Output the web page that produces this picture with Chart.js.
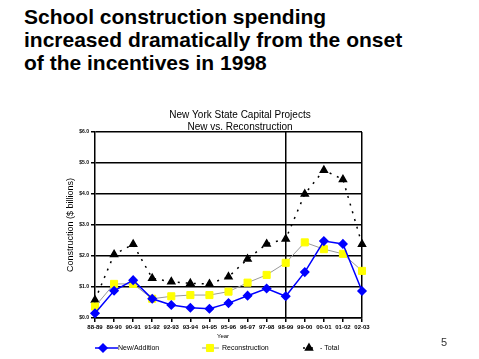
<!DOCTYPE html>
<html>
<head>
<meta charset="utf-8">
<script src="https://cdn.jsdelivr.net/npm/chart.js@4"></script>
<style>
  body { margin: 0; background: #fff; }
  #wrap { position: relative; width: 479px; height: 359px; overflow: hidden; }
  #slideTitle {
    position: absolute; left: 24px; top: 5px;
    font: bold 21px "Liberation Sans", Arial, sans-serif;
    line-height: 23px; color: #000; white-space: nowrap;
  }
  #pageNum {
    position: absolute; left: 441px; top: 336px;
    font: 11px "Liberation Sans", Arial, sans-serif; color: #333;
  }
  canvas { position: absolute; left: 0; top: 0; }
</style>
</head>
<body>
<div id="wrap">
  <div id="slideTitle">School construction spending<br>increased dramatically from the onset<br>of the incentives in 1998</div>
  <canvas id="projectsChart" width="479" height="359"></canvas>
  <div id="pageNum">5</div>
</div>
<script>
// Fiscal years on the x axis
const years = ['88-89', '89-90', '90-91', '91-92', '92-93', '93-94', '94-95', '95-96',
               '96-97', '97-98', '98-99', '99-00', '00-01', '01-02', '02-03'];

// Spending in $ billions
const newAddition    = [0.15, 0.88, 1.22, 0.62, 0.42, 0.33, 0.30, 0.48, 0.72, 0.95, 0.70, 1.48, 2.48, 2.39, 0.87];
const reconstruction = [0.37, 1.10, 1.10, 0.62, 0.70, 0.74, 0.74, 0.85, 1.14, 1.39, 1.78, 2.44, 2.22, 2.07, 1.52];
const total          = [0.58, 2.05, 2.38, 1.28, 1.17, 1.12, 1.10, 1.33, 1.90, 2.39, 2.55, 4.00, 4.77, 4.47, 2.38];

const yTicks = [0, 1, 2, 3, 4, 5, 6];
const startIndex = 10; // incentives begin in 98-99

const FONT = '"Liberation Sans", Arial, sans-serif';

// Titles, axis names and the legend row are drawn by hand to match the slide
const annotations = {
    id: 'annotations',
    afterDraw(chart) {
        const c = chart.ctx;
        const area = chart.chartArea;
        c.save();
        c.fillStyle = '#000';
        c.textAlign = 'center';
        c.textBaseline = 'middle';
        c.font = '10px ' + FONT;
        c.fillText('New York State Capital Projects', 240, 115);
        c.fillText('New vs. Reconstruction', 240, 127);

        c.font = '6px ' + FONT;
        c.fillText('Year', 223, 336);

        c.font = '9px ' + FONT;
        c.translate(71, (area.top + area.bottom) / 2);
        c.rotate(-Math.PI / 2);
        c.fillText('Construction ($ billions)', 0, 0);
        c.restore();

        // legend
        const ly = 348;
        const items = [
            { ds: 0, x1: 95, x2: 118, mx: 103, tx: 118, text: 'New/Addition', dash: [] },
            { ds: 1, x1: 202, x2: 219, mx: 210, tx: 222, text: 'Reconstruction', dash: [] },
            { ds: 2, x1: 303, x2: 318, mx: 309, tx: 320, text: '- Total', dash: [2, 6] }
        ];
        c.save();
        c.font = '7px ' + FONT;
        c.textBaseline = 'middle';
        c.textAlign = 'left';
        items.forEach(it => {
            const ds = chart.data.datasets[it.ds];
            c.strokeStyle = ds.borderColor;
            c.lineWidth = ds.borderWidth;
            c.setLineDash(it.dash);
            c.beginPath();
            c.moveTo(it.x1, ly);
            c.lineTo(it.x2, ly);
            c.stroke();
            c.setLineDash([]);
            c.fillStyle = ds.pointBackgroundColor;
            c.strokeStyle = ds.pointBorderColor;
            Chart.helpers.drawPoint(c, {
                pointStyle: ds.pointStyle,
                radius: ds.pointRadius,
                borderWidth: 1
            }, it.mx, ly);
            c.fillStyle = '#000';
            c.fillText(it.text, it.tx, ly);
        });
        c.restore();
    }
};

new Chart(document.getElementById('projectsChart'), {
    type: 'line',
    data: {
        labels: years,
        datasets: [{
            label: 'New/Addition',
            data: newAddition,
            borderColor: '#0000ff',
            borderWidth: 1.5,
            pointStyle: 'rectRot',
            pointRadius: 4,
            pointBackgroundColor: '#0000ff',
            pointBorderColor: '#0000ff',
            tension: 0
        }, {
            label: 'Reconstruction',
            data: reconstruction,
            borderColor: '#999999',
            borderWidth: 1,
            pointStyle: 'rect',
            pointRadius: 5,
            pointBackgroundColor: '#ffff00',
            pointBorderColor: '#ffff00',
            tension: 0
        }, {
            label: 'Total',
            data: total,
            borderColor: '#000000',
            borderWidth: 1.5,
            borderDash: [2, 6],
            pointStyle: 'triangle',
            pointRadius: 4,
            pointBackgroundColor: '#000000',
            pointBorderColor: '#000000',
            tension: 0
        }]
    },
    options: {
        responsive: false,
        animation: false,
        layout: { padding: { left: 0, right: 117, top: 132, bottom: 0 } },
        plugins: {
            legend: { display: false },
            tooltip: { enabled: false }
        },
        scales: {
            x: {
                offset: false,
                afterFit: s => { s.height = 41; },
                border: { color: '#000', width: 1.5 },
                grid: {
                    color: ctx => (ctx.index === startIndex || ctx.index === years.length - 1) ? '#000' : 'rgba(0,0,0,0)',
                    lineWidth: 1.5,
                    tickColor: '#000',
                    tickLength: 4
                },
                ticks: {
                    color: '#000',
                    font: { size: 6, weight: 'bold', family: FONT },
                    maxRotation: 0,
                    autoSkip: false,
                    padding: 2
                }
            },
            y: {
                min: 0,
                max: 6,
                afterFit: s => { s.width = 95; },
                afterBuildTicks: s => { s.ticks = yTicks.map(v => ({ value: v })); },
                border: { color: '#000', width: 1.5 },
                grid: {
                    color: '#000',
                    lineWidth: 1.5,
                    tickColor: '#000',
                    tickLength: 4
                },
                ticks: {
                    color: '#000',
                    font: { size: 5, weight: 'bold', family: FONT },
                    padding: 2,
                    callback: v => '$' + v.toFixed(1)
                }
            }
        }
    },
    plugins: [annotations]
});
</script>
</body>
</html>
